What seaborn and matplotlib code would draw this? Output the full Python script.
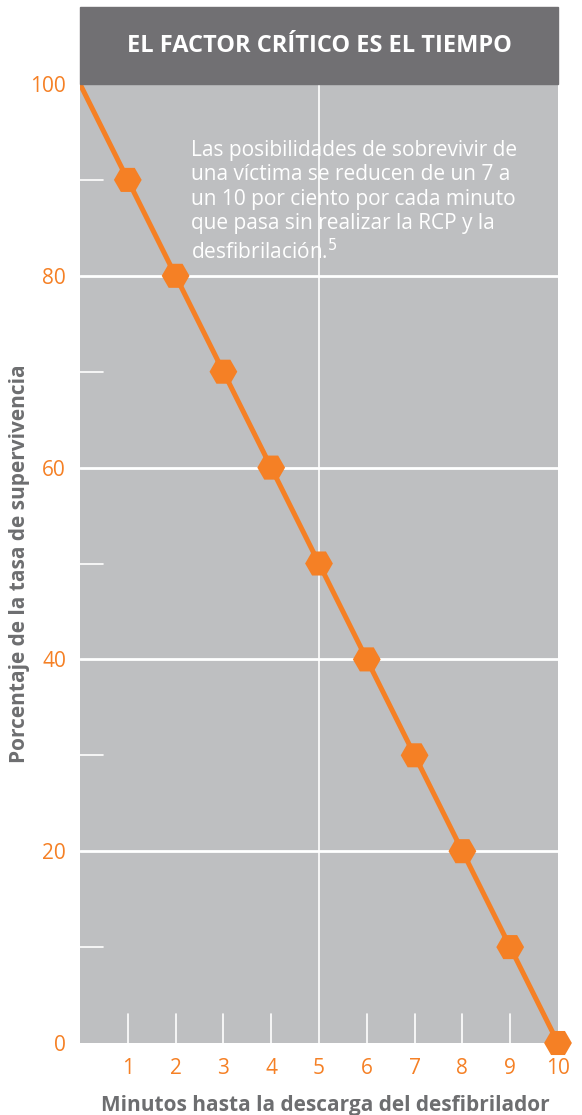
import seaborn as sns
import pandas as pd
import matplotlib.pyplot as plt
from matplotlib.patches import Rectangle

# datos del gráfico
minutos = [0, 1, 2, 3, 4, 5, 6, 7, 8, 9, 10]
supervivencia = [100, 90, 80, 70, 60, 50, 40, 30, 20, 10, 0]
xticks = [1, 2, 3, 4, 5, 6, 7, 8, 9, 10]
yticks = [0, 20, 40, 60, 80, 100]
titulo = 'EL FACTOR CRÍTICO ES EL TIEMPO'
nota = ('Las posibilidades de sobrevivir de\nuna víctima se reducen de un 7 a\n'
        'un 10 por ciento por cada minuto\nque pasa sin realizar la RCP y la\n'
        'desfibrilación.$^{5}$')

naranja = '#F58025'
gris_fondo = '#BEBFC1'
gris_titulo = '#717073'
gris_texto = '#6D6E70'

sns.set_style('white')
plt.rcParams['font.family'] = ['Open Sans', 'DejaVu Sans']

df = pd.DataFrame({'min': minutos, 'sup': supervivencia})

W, H = 582, 1115
fig = plt.figure(figsize=(W / 100, H / 100), dpi=100)
ax = fig.add_axes([80 / W, (H - 1043) / H, (558 - 80) / W, (1043 - 84) / H])
ax.set_facecolor(gris_fondo)

# rejilla blanca
for y in [20, 40, 60, 80]:
    ax.axhline(y, color='white', lw=2, zorder=1)
for y in [10, 30, 50, 70, 90]:
    ax.plot([0, 0.48], [y, y], color='white', lw=1.2, zorder=1)
ax.axvline(5, color='white', lw=1.2, zorder=1)
for x in [1, 2, 3, 4, 6, 7, 8, 9]:
    ax.plot([x, x], [0, 3], color='white', lw=1.2, zorder=1)

sns.lineplot(data=df, x='min', y='sup', color=naranja, lw=3.6, ax=ax, zorder=3)
sns.scatterplot(data=df[df['min'] > 0], x='min', y='sup', marker='H', s=400,
                color=naranja, edgecolor='none', ax=ax, zorder=4, clip_on=False)

ax.set_xlim(0, 10)
ax.set_ylim(0, 100)
ax.set_xticks(xticks)
ax.set_yticks(yticks)
ax.tick_params(axis='both', length=0, labelsize=15, labelcolor=naranja)
ax.tick_params(axis='x', pad=11)
ax.tick_params(axis='y', pad=10)
for s in ax.spines.values():
    s.set_visible(False)

ax.set_xlabel('Minutos hasta la descarga del desfibrilador', fontsize=15,
              fontweight='bold', color=gris_texto, va='center')
ax.set_ylabel('Porcentaje de la tasa de supervivencia', fontsize=15,
              fontweight='bold', color=gris_texto, va='center')
ax.xaxis.set_label_coords(245 / 478, -62 / 959)
ax.yaxis.set_label_coords(-60 / 478, 0.5)

ax.text(2.33, 94.2, nota, color='white', fontsize=15, va='top', ha='left',
        linespacing=1.22, zorder=5)

# banda del título
fig.patches.append(Rectangle((80 / W, (H - 84) / H), (558 - 80) / W, 77 / H,
                             transform=fig.transFigure, color=gris_titulo, zorder=0))
fig.text(319 / W, (H - 46) / H, titulo, color='white', fontsize=17,
         fontweight='bold', ha='center', va='center')

fig.savefig('out.png', dpi=100)
